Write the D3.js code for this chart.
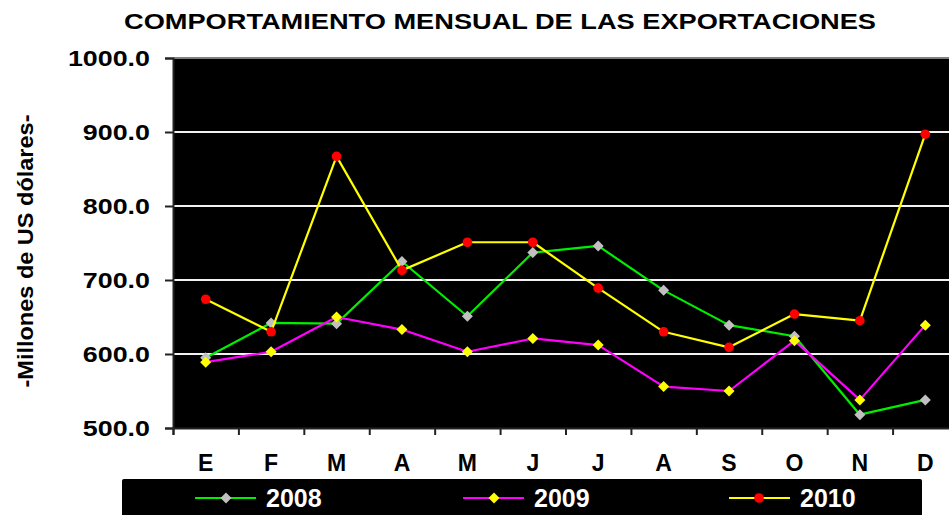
<!DOCTYPE html>
<html>
<head>
<meta charset="utf-8">
<script src="https://cdn.jsdelivr.net/npm/d3@7"></script>
<style>
  html, body { margin: 0; padding: 0; background: #fff; }
  svg { display: block; font-family: "Liberation Sans", Arial, sans-serif; font-weight: bold; }
</style>
</head>
<body>
<svg id="chart" width="949" height="515"></svg>
<script>
const months = ["E","F","M","A","M","J","J","A","S","O","N","D"];
const yTicks = [500, 600, 700, 800, 900, 1000];
const seriesNames = ["2008", "2009", "2010"];
const v2008 = [595, 642, 641, 725, 651, 737, 746, 686, 639, 624, 518, 538];
const v2009 = [589, 603, 650, 633, 603, 621, 612, 556, 550, 618, 538, 639];
const v2010 = [674, 630, 867, 713, 751, 751, 689, 630, 609, 654, 645, 897];
const titleText = "COMPORTAMIENTO MENSUAL DE LAS EXPORTACIONES";
const yTitleText = "-Millones de US dólares-";

const series = [
  { name: seriesNames[0], values: v2008, line: "#00ee00", marker: "#c0c0c0", shape: "diamond" },
  { name: seriesNames[1], values: v2009, line: "#ff00ff", marker: "#ffff00", shape: "diamond" },
  { name: seriesNames[2], values: v2010, line: "#ffff00", marker: "#ff0000", shape: "circle" }
];

const svg = d3.select("#chart");
const plot = { left: 173, top: 58, right: 958, bottom: 428 };

const x = d3.scaleBand().domain(d3.range(months.length)).range([plot.left, plot.right]).paddingInner(0).paddingOuter(0);
const y = d3.scaleLinear().domain([500, 1000]).range([plot.bottom, plot.top]);

function stretch(sel, factor) {
  sel.each(function () {
    const w = this.getComputedTextLength();
    d3.select(this).attr("textLength", w * factor).attr("lengthAdjust", "spacingAndGlyphs");
  });
}

// title
svg.append("text").attr("x", 500).attr("y", 29).attr("text-anchor", "middle")
  .attr("font-size", 22).attr("fill", "#000").text(titleText)
  .attr("textLength", 752).attr("lengthAdjust", "spacingAndGlyphs");

// plot background
svg.append("rect").attr("x", plot.left).attr("y", plot.top)
  .attr("width", plot.right - plot.left).attr("height", plot.bottom - plot.top).attr("fill", "#000");

// gridlines
svg.append("g").selectAll("line").data(yTicks.filter(t => t > 500 && t < 1000)).join("line")
  .attr("x1", plot.left).attr("x2", plot.right)
  .attr("y1", d => y(d)).attr("y2", d => y(d))
  .attr("stroke", "#f2f2f2").attr("stroke-width", 1.8);

// top border
svg.append("line").attr("x1", plot.left).attr("x2", plot.right).attr("y1", plot.top).attr("y2", plot.top)
  .attr("stroke", "#808080").attr("stroke-width", 2);

// y axis
const yAxis = d3.axisLeft(y).tickValues(yTicks).tickFormat(d3.format(".1f")).tickSize(8).tickPadding(15);
const gy = svg.append("g").attr("transform", `translate(${plot.left},0)`).call(yAxis);
gy.select(".domain").attr("stroke", "#222").attr("stroke-width", 2);
gy.selectAll(".tick line").attr("stroke", "#222").attr("stroke-width", 2);
gy.selectAll(".tick text").attr("font-size", 22)
  .attr("font-family", "'Liberation Sans', Arial, sans-serif").attr("font-weight", "bold").attr("fill", "#000").attr("dy", "0.36em");
stretch(gy.selectAll(".tick text"), 1.22);

// x axis (ticks at category boundaries)
const xb = d3.scaleLinear().domain([0, months.length]).range([plot.left, plot.right]);
const gx = svg.append("g").attr("transform", `translate(0,${plot.bottom})`)
  .call(d3.axisBottom(xb).tickValues(d3.range(months.length + 1)).tickSize(7).tickFormat(""));
gx.select(".domain").attr("stroke", "#222").attr("stroke-width", 2);
gx.selectAll(".tick line").attr("stroke", "#222").attr("stroke-width", 2);

svg.append("g").selectAll("text").data(months).join("text")
  .attr("x", (d, i) => x(i) + x.bandwidth() / 2).attr("y", 471)
  .attr("text-anchor", "middle").attr("font-size", 23).attr("fill", "#000").text(d => d);

// y title
const yt = svg.append("text").attr("transform", `translate(33,251) rotate(-90)`)
  .attr("text-anchor", "middle").attr("font-size", 22).attr("fill", "#000").text(yTitleText)
  .attr("textLength", 273).attr("lengthAdjust", "spacingAndGlyphs");

// series
const cx = i => x(i) + x.bandwidth() / 2;
const line = d3.line().x((d, i) => cx(i)).y(d => y(d));
const diamond = (r) => `M0,${-r}L${r},0L0,${r}L${-r},0Z`;

series.forEach(s => {
  const g = svg.append("g");
  g.append("path").datum(s.values).attr("d", line).attr("fill", "none")
    .attr("stroke", s.line).attr("stroke-width", 2.2).attr("stroke-linejoin", "round");
  if (s.shape === "diamond") {
    g.selectAll("path.m").data(s.values).join("path").attr("class", "m")
      .attr("transform", (d, i) => `translate(${cx(i)},${y(d)})`)
      .attr("d", diamond(5.5)).attr("fill", s.marker);
  } else {
    g.selectAll("circle").data(s.values).join("circle")
      .attr("cx", (d, i) => cx(i)).attr("cy", d => y(d)).attr("r", 4.8).attr("fill", s.marker);
  }
});

// legend
const lg = svg.append("g");
lg.append("rect").attr("x", 122).attr("y", 479).attr("width", 800).attr("height", 50).attr("rx", 2).attr("fill", "#000");
const legendX = [195, 463, 729];
series.forEach((s, k) => {
  const lx = legendX[k], ly = 498;
  lg.append("line").attr("x1", lx).attr("x2", lx + 61).attr("y1", ly).attr("y2", ly)
    .attr("stroke", s.line).attr("stroke-width", 2.2);
  if (s.shape === "diamond") {
    lg.append("path").attr("transform", `translate(${lx + 31},${ly})`).attr("d", diamond(5.5)).attr("fill", s.marker);
  } else {
    lg.append("circle").attr("cx", lx + 30).attr("cy", ly).attr("r", 4.8).attr("fill", s.marker);
  }
  lg.append("text").attr("x", lx + 71).attr("y", ly + 9).attr("font-size", 25).attr("fill", "#fff").text(s.name);
});
</script>
</body>
</html>
